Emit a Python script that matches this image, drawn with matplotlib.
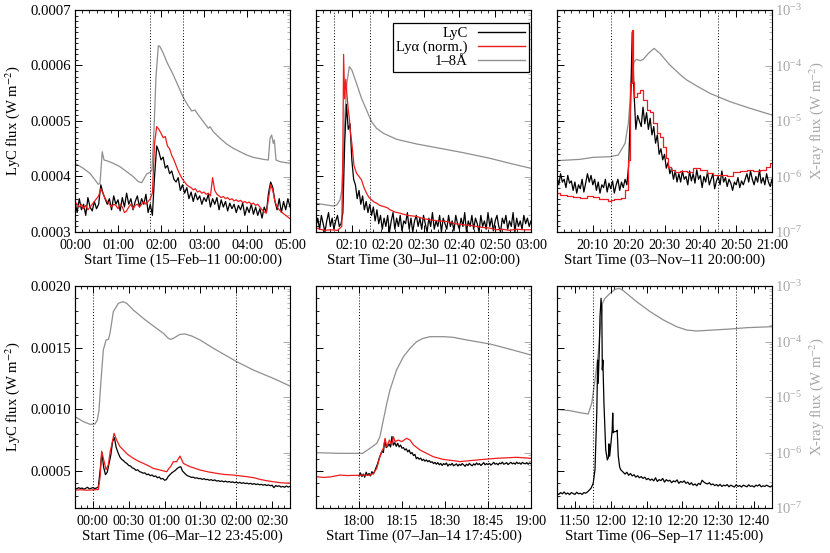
import numpy as np
import matplotlib.pyplot as plt
from matplotlib.ticker import MultipleLocator, FixedLocator, NullFormatter, FuncFormatter
from matplotlib.lines import Line2D

plt.rcParams['font.family'] = ['Liberation Serif', 'DejaVu Serif']
plt.rcParams['mathtext.fontset'] = 'stix'
plt.rcParams['font.size'] = 10.6

GRAY = '#8f8f8f'
GRAY_TXT = '#a8a8a8'
RED = '#ee1c1c'

# ---------------- panel 1 : 15-Feb-11 (minutes from 00:00) ----------------
# LyC / Lya values in units of 1e-4 W m^-2, X-ray as log10(W m^-2)
p1_lyc = [3.55, 3.35, 3.6, 3.4, 3.5, 3.3, 3.62, 3.45, 3.38, 3.55,
          3.42, 3.5, 3.85, 3.7, 3.6, 3.5, 3.6, 3.4, 3.65, 3.5,
          3.58, 3.38, 3.62, 3.45, 3.7, 3.5, 3.6, 3.4, 3.55, 3.65,
          3.45, 3.6, 3.5, 3.68, 3.35, 3.5, 3.3, 4.0, 4.55, 4.45,
          4.3, 4.35, 4.15, 4.2, 4.05, 4.1, 3.95, 3.9, 3.98, 3.75,
          3.85, 3.7, 3.8, 3.6, 3.72, 3.55, 3.7, 3.58, 3.65, 3.5,
          3.62, 3.55, 3.68, 3.45, 3.6, 3.5, 3.62, 3.4, 3.58, 3.45,
          3.55, 3.38, 3.52, 3.42, 3.5, 3.35, 3.48, 3.4, 3.52, 3.3,
          3.45, 3.35, 3.5, 3.32, 3.45, 3.3, 3.42, 3.25, 3.45, 3.35,
          3.7, 3.9, 3.8, 3.55, 3.4, 3.6, 3.35, 3.55, 3.4, 3.6,
          3.45]
p1_lya = [3.55, 3.5, 3.45, 3.5, 3.42, 3.48, 3.4, 3.45, 3.5, 3.55,
          3.6, 3.65, 3.78, 3.7, 3.6, 3.55, 3.5, 3.45, 3.5, 3.48,
          3.42, 3.5, 3.45, 3.35, 3.38, 3.45, 3.5, 3.42, 3.48, 3.5,
          3.45, 3.5, 3.55, 3.5, 3.55, 3.6, 3.7, 4.6, 4.9, 4.85,
          4.78, 4.7, 4.72, 4.55, 4.5, 4.38, 4.3, 4.2, 4.1, 4.02,
          3.95, 3.9, 3.85, 3.82, 3.8, 3.76, 3.78, 3.72, 3.74, 3.7,
          3.72, 3.68, 3.7, 3.65, 3.98, 3.75, 3.68, 3.65, 3.62, 3.64,
          3.6, 3.62, 3.58, 3.6, 3.56, 3.58, 3.55, 3.57, 3.53, 3.55,
          3.52, 3.54, 3.5, 3.52, 3.48, 3.5, 3.45, 3.4, 3.36, 3.34,
          3.6, 3.85, 3.75, 3.55, 3.45, 3.4, 3.36, 3.33, 3.3, 3.27,
          3.24]
p1_step = 3.0
p1_xr_t = [0, 11.6, 20.9, 32.6, 34.9, 38, 40.5, 44.2, 53.5, 62.8, 72.1, 81.4,
           88.4, 93, 95.3, 100, 104.7, 107.4, 110.2, 113, 116.3, 118.6, 123.3,
           127.9, 137.2, 146.5, 150.2, 155.8, 162.8, 167.4, 172.1, 179.1, 186,
           188.4, 193, 202.3, 211.6, 220.9, 230.2, 239.5, 248.8, 262.8, 269.8,
           272.1, 274.4, 276.7, 278.1, 280.5, 286, 300]
p1_xr = [-5.763, -5.853, -5.943, -6.141, -6.12, -5.553, -5.703, -5.715, -5.763,
         -5.823, -5.913, -6.003, -6.093, -6.111, -6.063, -5.955, -5.925, -5.883,
         -5.162, -4.201, -3.643, -3.661, -3.781, -3.931, -4.171, -4.441, -4.55,
         -4.682, -4.82, -4.802, -4.892, -5.012, -5.132, -5.102, -5.192, -5.312,
         -5.414, -5.492, -5.553, -5.613, -5.655, -5.691, -5.703, -5.312, -5.252,
         -5.402, -5.342, -5.703, -5.733, -5.763]

# ---------------- panel 2 : 30-Jul-11 (minutes from 02:00) ----------------
p2_lyc = [3.1, 3.25, 3.05, 3.3, 3.15, 3.0, 3.2, 3.35, 3.1, 3.25,
          3.05, 3.2, 3.3, 3.1, 3.15, 3.35, 4.6, 5.3, 4.85, 4.95,
          4.3, 3.95, 3.85, 3.6, 3.75, 3.5, 3.65, 3.4, 3.55, 3.35,
          3.5, 3.3, 3.45, 3.2, 3.4, 3.15, 3.3, 3.05, 3.25,
          3.1, 3.3, 3.0, 3.2, 3.35, 3.05, 3.25, 3.1, 3.3, 3.02,
          3.2, 3.15, 3.35, 3.05, 3.25, 3.0, 3.2, 3.3, 3.1, 3.25,
          3.05, 3.3, 3.15, 3.0, 3.25, 3.1, 3.35, 3.05, 3.2, 3.1,
          3.3, 3.0, 3.25, 3.15, 3.05, 3.3, 3.1, 3.2, 3.02, 3.3,
          3.15, 3.05, 3.25, 3.1, 3.35, 3.0, 3.2, 3.1, 3.3, 3.05,
          3.25, 3.15, 3.0, 3.3, 3.1, 3.2, 3.05, 3.35, 3.1, 3.25,
          3.02, 3.2, 3.3, 3.1, 3.0, 3.25, 3.15, 3.3, 3.05, 3.2,
          3.1, 3.35, 3.0, 3.25, 3.1, 3.2, 3.05, 3.3, 3.15, 3.25,
          3.1, 3.2]
p2_step = 0.5
p2_lya_t = [0, 1, 2.5, 4, 6, 7.2, 7.5, 7.7, 8.0, 8.3, 8.6, 9.0, 9.3, 9.6, 10,
            10.6, 11.3, 12.0, 12.7, 13.4, 14.1, 14.8, 15.5, 16.2, 16.9, 17.8,
            18.8, 19.8, 20.7, 22.0, 23.4, 25.5, 28.1, 30.0, 31.8, 34.0, 36.5,
            38.8, 41.1, 43.0, 44.8, 46.7, 48.6, 50.3, 52, 54, 56, 58, 60]
p2_lya = [3.08, 3.05, 3.03, 3.04, 3.03, 3.1, 4.5, 6.2, 5.4, 5.75, 5.5, 5.2, 5.05,
          4.8, 4.6, 4.2, 4.06, 4.0, 3.94, 3.8, 3.7, 3.62, 3.58, 3.54, 3.52, 3.48,
          3.46, 3.44, 3.4, 3.36, 3.34, 3.3, 3.28, 3.24, 3.22, 3.2, 3.19, 3.15,
          3.13, 3.12, 3.1, 3.08, 3.07, 3.04, 3.05, 3.03, 3.05, 3.04, 3.04]
p2_xr_t = [0, 4.8, 5.8, 6.7, 7.2, 7.6, 8.1, 8.6, 9.3, 10, 11.3, 12.7, 14.1,
           15.5, 16.9, 18.8, 22.5, 28.1, 34.6, 41.1, 48.6, 54.1, 60]
p2_xr = [-6.483, -6.532, -6.514, -6.423, -6.243, -5.703, -4.862, -4.321,
         -4.021, -4.081, -4.321, -4.592, -4.802, -5.012, -5.132, -5.222,
         -5.33, -5.414, -5.492, -5.571, -5.673, -5.763, -5.853]

# ---------------- panel 3 : 03-Nov-11 (minutes from 20:00) ----------------
p3_lyc = [4.0, 3.85, 4.05, 3.9, 3.95, 3.8, 4.02, 3.88, 3.92, 3.75,
          3.9, 3.7, 3.85, 3.78, 3.95, 3.72, 3.88, 4.05, 3.9, 4.02,
          3.85, 3.95, 3.75, 3.9, 3.7, 3.85, 3.8, 3.95, 3.72, 3.88,
          3.78, 3.92, 3.7, 3.85, 3.95, 3.75, 3.9, 3.8, 3.95, 3.85,
          4.2, 5.2, 6.6, 5.5, 4.85, 5.1, 5.0, 4.9, 5.25, 4.95,
          5.15, 4.85, 5.05, 4.75, 4.9, 4.6, 4.75, 4.4, 4.5, 4.3,
          4.4, 4.15, 4.25, 4.05, 4.15, 3.95, 4.1, 3.9,
          4.05, 3.9, 4.1, 3.95, 4.0, 3.85, 4.1, 3.92, 4.05, 3.88,
          4.12, 3.95, 4.02, 3.8, 4.0, 3.9, 4.08, 3.85, 3.95, 4.05,
          3.78, 3.92, 4.0, 3.85, 4.1, 3.9, 3.98, 3.82, 3.95, 3.88,
          3.75, 3.9, 3.85, 3.98, 3.8, 3.92, 3.85, 3.95, 4.05, 3.9,
          4.1, 3.95, 3.85, 4.0, 3.9, 4.12, 3.88, 3.98, 3.85, 4.05,
          3.9, 3.82, 3.95]
p3_step = 0.5
p3_lya_t = [0, 1.8, 3.6, 5.5, 7.3, 9.2, 11, 12.5, 13.9, 14.8, 15.5, 16.2, 17.4,
            18.5, 19.6, 20.2, 20.7, 21.0, 21.3, 21.8, 22.7, 23.6, 24.6, 25.5,
            26.4, 27.3, 28.3, 29.2, 30.1, 30.6, 31.5, 32.4, 33.4, 35.2, 37.1,
            39, 40.8, 42.7, 44.6, 46.4, 48.3, 50.1, 52.0, 53.9, 55.7, 57.6, 59, 60]
p3_lya = [3.71, 3.67, 3.65, 3.63, 3.62, 3.64, 3.63, 3.6, 3.59, 3.55, 3.57, 3.59,
          3.6, 3.62, 3.76, 4.3, 5.68, 6.64, 5.7, 5.44, 5.5, 5.56, 5.38, 5.2,
          5.17, 4.96, 4.78, 4.72, 4.54, 4.33, 4.18, 4.12, 4.09, 4.1, 4.09, 4.15,
          4.12, 4.06, 4.03, 4.02, 4.01, 4.09, 4.1, 4.11, 4.1, 4.12, 4.18, 4.24]
p3_xr_t = [0, 6.4, 10.1, 14.8, 17.1, 19.0, 19.9, 20.4, 20.8, 21.5, 22.2, 23.2,
           24.1, 25.5, 27.1, 28.7, 31.5, 34.8, 36.2, 39, 42.7, 48.3, 53.9, 60]
p3_xr = [-5.715, -5.691, -5.655, -5.643, -5.613, -5.402, -5.042, -4.622,
         -4.201, -3.931, -3.889, -3.913, -3.889, -3.781, -3.691, -3.781,
         -3.991, -4.189, -4.261, -4.369, -4.502, -4.652, -4.772, -4.892]

# ---------------- panel 4 : 06-Mar-12 (minutes from 23:45) ----------------
p4_lyc = [3.6, 3.55, 3.65, 3.58, 3.62, 3.52, 3.6, 3.68, 3.55, 3.6, 3.65, 3.58, 3.62, 3.7,
          5.0, 6.5, 5.3, 4.7, 4.9, 5.6, 6.3, 7.4, 7.7, 6.9,
          6.5, 6.15, 5.95, 5.85, 5.7, 5.6, 5.45, 5.4, 5.25, 5.2,
          5.05, 5.1, 4.95, 4.9, 4.82, 4.85, 4.7, 4.75, 4.62, 4.68,
          4.55, 4.6, 4.45, 4.52, 4.35, 4.4, 4.25, 4.3, 4.55, 4.7,
          4.85, 4.95, 5.05, 5.2, 5.3, 5.35, 5.0, 4.85, 4.7, 4.6,
          4.55, 4.48, 4.5, 4.42, 4.45, 4.38, 4.4, 4.32, 4.38, 4.3,
          4.32, 4.25, 4.3, 4.22, 4.28, 4.18, 4.22, 4.15, 4.2, 4.12,
          4.18, 4.1, 4.15, 4.08, 4.12, 4.05, 4.1, 4.02, 4.08, 4.0,
          4.05, 3.98, 4.02, 3.95, 4.0, 3.92, 3.98, 3.9, 3.95, 3.88,
          3.92, 3.85, 3.9, 3.82, 3.88, 3.8, 3.85, 3.65, 3.82, 3.75,
          3.8, 3.7, 3.75, 3.68, 3.78, 3.7, 3.75]
p4_step = 1.5
p4_lya_t = [0, 5, 10, 15, 19.5, 21, 22.3, 24.3, 26, 27.9, 29.5, 30.7, 32.7, 34.9,
            37.5, 40.5, 44, 48.8, 53, 57.2, 61, 65.6, 71.2, 76.8, 78.5, 80, 82.3,
            85.1, 87.9, 90.7, 93, 96.3, 104.7, 112, 118.6, 125, 132.6, 143.7, 150,
            154.9, 160, 166, 172, 180]
p4_lya = [3.45, 3.48, 3.44, 3.47, 3.5, 4.5, 6.6, 5.8, 5.1, 5.5, 6.6, 7.1, 8.05,
          7.5, 7.0, 6.7, 6.35, 6.03, 5.8, 5.62, 5.45, 5.21, 5.08, 4.94, 5.2, 5.35,
          5.75, 5.76, 6.21, 5.62, 5.5, 5.35, 5.08, 4.92, 4.81, 4.72, 4.67, 4.54,
          4.45, 4.32, 4.22, 4.13, 4.05, 4.0]
p4_xr_t = [0, 7, 12.6, 16.7, 18.7, 20.1, 21.8, 23.7, 26, 28, 29.3, 32.1, 36.3,
           40.2, 43.3, 48.8, 57.2, 65.6, 74, 78.1, 80.1, 82.3, 87.9, 92.1, 97.7,
           104.7, 115.9, 127.1, 135.3, 149.3, 166, 180]
p4_xr = [-5.354, -5.444, -5.492, -5.486, -5.414, -5.234, -4.694, -4.153, -3.973,
         -3.961, -3.853, -3.462, -3.312, -3.282, -3.312, -3.432, -3.583, -3.721,
         -3.853, -3.943, -3.961, -3.943, -3.871, -3.865, -3.901, -3.973, -4.123,
         -4.261, -4.363, -4.514, -4.664, -4.802]

# ---------------- panel 5 : 07-Jan-14 (minutes from 17:45) ----------------
p5_lyc_t0 = 15.0
p5_lyc = [4.6, 4.85, 4.55, 4.75, 4.5, 4.9, 4.65, 4.8, 4.6, 4.95, 4.75, 5.0,
          5.3, 5.6, 6.0, 6.3, 6.6, 6.5,
          7.5, 6.9, 7.0, 7.2, 6.95, 7.8, 7.1, 7.3, 7.0, 7.25, 6.95, 7.1, 6.85,
          6.9, 6.7, 6.8, 6.55, 6.7, 6.4, 6.5, 6.25, 6.35, 6.0,
          6.1, 5.95, 6.05, 5.85, 5.95, 5.8, 5.9, 5.75, 5.85, 5.7,
          5.75, 5.6, 5.7, 5.55, 5.68, 5.5, 5.62, 5.45, 5.6, 5.52,
          5.65, 5.4, 5.55, 5.48, 5.62, 5.42, 5.5, 5.58, 5.4, 5.55,
          5.45, 5.6, 5.5, 5.38, 5.55, 5.45, 5.62, 5.5, 5.42, 5.58,
          5.48, 5.65, 5.52, 5.6, 5.45, 5.55, 5.68, 5.5, 5.6, 5.52,
          5.62, 5.48, 5.58, 5.7, 5.55, 5.62, 5.5, 5.65, 5.58, 5.72,
          5.55, 5.6, 5.68, 5.52, 5.62, 5.7, 5.58, 5.65, 5.55, 5.72,
          5.6, 5.66, 5.55, 5.7, 5.62, 5.58, 5.68, 5.55, 5.65, 5.6]
p5_step = 0.5
p5_lya_t = [0, 2.6, 5, 8.4, 11, 14.2, 16.5, 18.8, 20, 21.2, 22.3, 22.9, 23.5,
            24.1, 24.7, 25.6, 26.4, 27, 27.6, 28.7, 29.9, 31.6, 32.8, 34, 36.3,
            38.6, 40.9, 44.4, 47.9, 50.2, 53.7, 58.4, 63, 70, 75]
p5_lya = [4.54, 4.48, 4.52, 4.67, 4.63, 4.65, 4.66, 4.67, 4.81, 5.21, 6.16,
          6.57, 6.84, 7.65, 6.97, 7.51, 7.11, 7.78, 7.38, 7.51, 7.38, 7.65,
          7.51, 7.11, 6.7, 6.43, 6.16, 5.94, 5.84, 5.76, 5.84, 5.94, 6.03,
          6.11, 6.03]
p5_xr_t = [0, 8.4, 16.3, 18.8, 21.2, 22.3, 23.5, 24.7, 25.8, 28.1, 30.5, 32.8,
           35.1, 37.4, 39.8, 44.4, 47.9, 51.4, 56, 60.7, 66.5, 75]
p5_xr = [-6.003, -6.015, -6.015, -5.925, -5.835, -5.715, -5.414, -5.114,
         -4.874, -4.514, -4.273, -4.123, -4.003, -3.943, -3.913, -3.913,
         -3.925, -3.961, -4.003, -4.045, -4.123, -4.243]

# ---------------- panel 6 : 06-Sep-17 (minutes from 11:45) ----------------
p6_pre = [3.2, 3.1, 3.25, 3.15, 3.3, 3.12, 3.22, 3.08, 3.25, 3.18, 3.1, 3.28,
          3.15, 3.2, 3.1, 3.25, 3.2, 3.3]
p6_flare_t = [9.0, 9.5, 10.1, 10.6, 11.1, 11.35, 11.5, 11.8, 12.0, 12.3, 12.5,
              12.65, 12.8, 13.1, 13.6, 14.05, 14.35, 14.5, 14.7, 15.1, 15.4,
              15.55, 15.7, 16.0, 16.5, 16.8, 17.1, 17.5, 17.8, 18.5]
p6_flare = [3.45, 3.6, 4.0, 5.1, 9.7, 14.0, 12.1, 14.8, 17.5, 19.0, 18.0, 13.2,
            14.0, 10.5, 6.7, 5.9, 6.1, 7.2, 6.2, 7.4, 8.3, 9.7, 8.1, 8.2, 8.2,
            8.3, 6.2, 5.3, 5.1, 4.9]
p6_tail_t0 = 19.0
p6_tail = [4.75, 4.9, 4.65, 4.8, 4.6, 4.7, 4.5, 4.62, 4.45, 4.55, 4.4, 4.5, 4.3,
           4.4, 4.25, 4.35, 4.2, 4.45, 4.15, 4.3, 4.22, 4.4, 4.1, 4.3, 4.18,
           4.25, 4.05, 4.2, 4.12, 4.28, 4.0, 4.15, 4.08,
           4.2, 4.0, 4.1, 3.9, 4.05, 3.85, 3.95, 3.8, 4.0, 3.9,
           4.25, 4.1, 4.0, 3.95, 4.05, 3.88,
           3.95, 3.82, 3.9, 3.78, 3.92, 3.75, 3.85, 3.8, 3.9, 3.72, 3.85, 3.78,
           3.7, 3.88, 3.75, 3.82, 3.7, 3.85, 3.78, 3.72, 3.88, 3.75, 3.8, 3.7,
           3.85, 3.78, 3.9, 3.72, 3.8, 3.75, 3.85, 3.78, 3.7, 3.8]
p6_step = 0.5
p6_xr_t = [0, 3.6, 6.4, 8.7, 9.7, 10.6, 11.5, 12.2, 12.7, 13.4, 14.8, 16.2,
           17.4, 18.5, 22.2, 26, 29.7, 33.4, 36.2, 39, 43.6, 48.3, 52.9, 60]
p6_xr = [-5.222, -5.246, -5.282, -5.306, -5.114, -4.694, -4.213, -3.673,
         -3.312, -3.222, -3.132, -3.06, -3.042, -3.084, -3.282, -3.462,
         -3.613, -3.733, -3.793, -3.811, -3.793, -3.775, -3.751, -3.733]

# axis ticks / labels
p1_xt, p1_xl = [0, 60, 120, 180, 240, 300], ['00:00', '01:00', '02:00', '03:00', '04:00', '05:00']
p2_xt, p2_xl = [10, 20, 30, 40, 50, 60], ['02:10', '02:20', '02:30', '02:40', '02:50', '03:00']
p3_xt, p3_xl = [10, 20, 30, 40, 50, 60], ['20:10', '20:20', '20:30', '20:40', '20:50', '21:00']
p4_xt, p4_xl = [15, 45, 75, 105, 135, 165], ['00:00', '00:30', '01:00', '01:30', '02:00', '02:30']
p5_xt, p5_xl = [15, 30, 45, 60, 75], ['18:00', '18:15', '18:30', '18:45', '19:00']
p6_xt, p6_xl = [5, 15, 25, 35, 45, 55], ['11:50', '12:00', '12:10', '12:20', '12:30', '12:40']

fig = plt.figure(figsize=(8.3, 5.53), dpi=100)
W, H = 215, 222
lefts = [75, 316, 557]
tops = [10, 286]


def make_panel(col, row, xlim, xt, xl, xminor, xlabel, dots, ylim, ymaj, ymin_):
    ax = fig.add_axes([lefts[col] / 830, 1 - (tops[row] + H) / 553, W / 830, H / 553])
    ax2 = ax.twinx()
    ax.set_zorder(ax2.get_zorder() + 1)
    ax.patch.set_visible(False)
    ax.set_xlim(*xlim)
    ax.set_ylim(*ylim)
    ax.xaxis.set_major_locator(FixedLocator(xt))
    ax.set_xticklabels(xl, fontsize=10.2)
    ax.xaxis.set_minor_locator(MultipleLocator(xminor))
    ax.yaxis.set_major_locator(MultipleLocator(ymaj))
    ax.yaxis.set_minor_locator(MultipleLocator(ymin_))
    ax.set_xlabel(xlabel, labelpad=1)
    ax.tick_params(which='both', direction='in', top=True, right=False)
    ax.tick_params(axis='x', pad=5)
    ax.tick_params(axis='y', pad=3)
    ax.tick_params(which='major', length=5, width=0.7)
    ax.tick_params(which='minor', length=2.5, width=0.6)
    if col == 0:
        ax.yaxis.set_major_formatter(FuncFormatter(lambda v, p: '%.4f' % v))
        ax.set_ylabel('LyC flux (W m$^{-2}$)', labelpad=6)
    else:
        ax.yaxis.set_major_formatter(NullFormatter())
    ax2.set_yscale('log')
    ax2.set_ylim(1e-7, 1e-3)
    ax2.tick_params(which='both', direction='in', colors=GRAY_TXT, pad=2)
    ax2.tick_params(which='major', length=5, width=0.7)
    ax2.tick_params(which='minor', length=2.5, width=0.6)
    ax2.spines['right'].set_color(GRAY_TXT)
    if col == 2:
        ax2.set_ylabel('X-ray flux (W m$^{-2}$)', color=GRAY_TXT, labelpad=3)
    else:
        ax2.yaxis.set_major_formatter(NullFormatter())
    ax2.yaxis.set_minor_formatter(NullFormatter())
    for d in dots:
        ax.axvline(d, color='k', ls=(0, (1, 2)), lw=0.7)
    for s in ax.spines.values():
        s.set_linewidth(0.8)
    return ax, ax2


def series(vals, step, t0=0.0):
    return t0 + np.arange(len(vals)) * step, np.array(vals) * 1e-4


LW = 0.9

# panel 1
ax, ax2 = make_panel(0, 0, (0, 300), p1_xt, p1_xl, 10, 'Start Time (15–Feb–11 00:00:00)',
                     [105, 150], (3e-4, 7e-4), 1e-4, 1e-5)
ax2.plot(p1_xr_t, 10 ** np.array(p1_xr), color=GRAY, lw=LW)
t, v = series(p1_lyc, p1_step)
ax.plot(t, v, color='k', lw=LW)
t, v = series(p1_lya, p1_step)
ax.plot(t, v, color=RED, lw=LW)

# panel 2
ax, ax2 = make_panel(1, 0, (0, 60), p2_xt, p2_xl, 2, 'Start Time (30–Jul–11 02:00:00)',
                     [5, 15], (3e-4, 7e-4), 1e-4, 1e-5)
ax2.plot(p2_xr_t, 10 ** np.array(p2_xr), color=GRAY, lw=LW)
t, v = series(p2_lyc, p2_step)
ax.plot(t, v, color='k', lw=LW)
ax.plot(p2_lya_t, np.array(p2_lya) * 1e-4, color=RED, lw=LW)
handles = [Line2D([], [], color='k', lw=1), Line2D([], [], color=RED, lw=1),
           Line2D([], [], color=GRAY, lw=1)]
leg = ax.legend(handles, ['LyC', 'Lyα (norm.)', '1–8Å'], loc='upper right',
                bbox_to_anchor=(0.991, 0.941), borderaxespad=0, markerfirst=False,
                fancybox=False, edgecolor='k', framealpha=1, handlelength=3.2,
                handletextpad=0.7, labelspacing=0.05, borderpad=0.25)
leg.get_frame().set_linewidth(0.9)

# panel 3
ax, ax2 = make_panel(2, 0, (0, 60), p3_xt, p3_xl, 2, 'Start Time (03–Nov–11 20:00:00)',
                     [15, 45], (3e-4, 7e-4), 1e-4, 1e-5)
ax2.plot(p3_xr_t, 10 ** np.array(p3_xr), color=GRAY, lw=LW)
t, v = series(p3_lyc, p3_step)
ax.plot(t, v, color='k', lw=LW)
ax.plot(p3_lya_t, np.array(p3_lya) * 1e-4, color=RED, lw=LW, drawstyle='steps-mid')

# panel 4
ax, ax2 = make_panel(0, 1, (0, 180), p4_xt, p4_xl, 5, 'Start Time (06–Mar–12 23:45:00)',
                     [15, 135], (2e-4, 20e-4), 5e-4, 1e-4)
ax2.plot(p4_xr_t, 10 ** np.array(p4_xr), color=GRAY, lw=LW)
t, v = series(p4_lyc, p4_step)
ax.plot(t, v, color='k', lw=LW)
ax.plot(p4_lya_t, np.array(p4_lya) * 1e-4, color=RED, lw=LW)

# panel 5
ax, ax2 = make_panel(1, 1, (0, 75), p5_xt, p5_xl, 2.5, 'Start Time (07–Jan–14 17:45:00)',
                     [15, 60], (2e-4, 20e-4), 5e-4, 1e-4)
ax2.plot(p5_xr_t, 10 ** np.array(p5_xr), color=GRAY, lw=LW)
t, v = series(p5_lyc, p5_step, p5_lyc_t0)
ax.plot(t, v, color='k', lw=LW)
ax.plot(p5_lya_t, np.array(p5_lya) * 1e-4, color=RED, lw=LW)

# panel 6
ax, ax2 = make_panel(2, 1, (0, 60), p6_xt, p6_xl, 2, 'Start Time (06–Sep–17 11:45:00)',
                     [10, 50], (2e-4, 20e-4), 5e-4, 1e-4)
ax2.plot(p6_xr_t, 10 ** np.array(p6_xr), color=GRAY, lw=LW)
t_pre, v_pre = series(p6_pre, p6_step)
t_tail, v_tail = series(p6_tail, p6_step, p6_tail_t0)
t6 = np.concatenate([t_pre, p6_flare_t, t_tail])
v6 = np.concatenate([v_pre, np.array(p6_flare) * 1e-4, v_tail])
ax.plot(t6, v6, color='k', lw=LW)

fig.savefig('out.png', dpi=100)
